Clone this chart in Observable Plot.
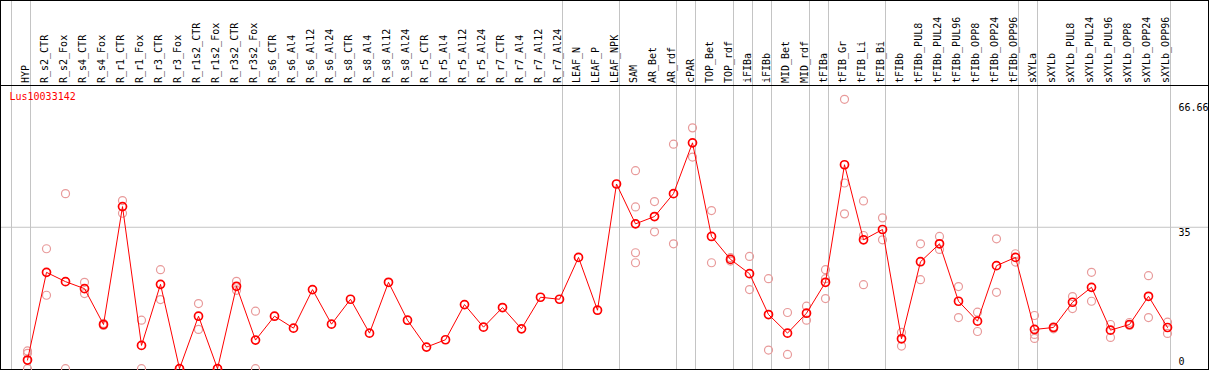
<!DOCTYPE html>
<html><head><meta charset="utf-8">
<script src="https://cdn.jsdelivr.net/npm/d3@7"></script>
<script src="https://cdn.jsdelivr.net/npm/@observablehq/plot@0.6"></script>
<style>html,body{margin:0;padding:0;background:#fff;}</style>
</head><body><div id="chart"></div>
<script>
const title = "Lus10033142";
const categories = ["HYP","R_s2_CTR","R_s2_Fox","R_s4_CTR","R_s4_Fox","R_r1_CTR","R_r1_Fox","R_r3_CTR","R_r3_Fox","R_r1s2_CTR","R_r1s2_Fox","R_r3s2_CTR","R_r3s2_Fox",
  "R_s6_CTR","R_s6_Al4","R_s6_Al12","R_s6_Al24","R_s8_CTR","R_s8_Al4","R_s8_Al12","R_s8_Al24","R_r5_CTR","R_r5_Al4","R_r5_Al12","R_r5_Al24","R_r7_CTR","R_r7_Al4","R_r7_Al12","R_r7_Al24",
  "LEAF_N","LEAF_P","LEAF_NPK","SAM","AR_Bet","AR_rdf","cPAR","TOP_Bet","TOP_rdf","iFIBa","iFIBb","MID_Bet","MID_rdf","tFIBa","tFIB_Gr","tFIB_Li","tFIB_Bi",
  "tFIBb","tFIBb_PUL8","tFIBb_PUL24","tFIBb_PUL96","tFIBb_OPP8","tFIBb_OPP24","tFIBb_OPP96","sXYLa","sXYLb","sXYLb_PUL8","sXYLb_PUL24","sXYLb_PUL96","sXYLb_OPP8","sXYLb_OPP24","sXYLb_OPP96"];
const groupStarts = ["HYP","R_s2_CTR","LEAF_N","SAM","cPAR","TOP_Bet","iFIBa","iFIBb","MID_Bet","tFIBa","tFIB_Gr","tFIBb","sXYLa","sXYLb"];
const groupEnd = ["sXYLb_OPP96"];
const yTicks = [0, 35, 66.66];

const means = [2.14,23.84,21.54,19.81,10.94,40.11,5.76,20.88,0,12.99,0,20.39,7.08,
  12.99,10.03,19.57,11.02,17.18,8.8,21.38,12.0,5.35,7.16,15.87,10.28,15.13,9.87,17.68,17.18,
  27.54,14.47,45.7,35.84,37.65,43.32,55.89,32.72,27.05,23.51,13.4,8.8,13.73,21.38,50.47,31.9,34.44,
  7.4,26.47,30.91,16.69,11.76,25.49,27.54,9.71,10.2,16.44,20.14,9.54,10.94,17.92,10.2];

const rep1 = [4.4,29.68,43.32,21.38,11.2,41.59,12.0,24.5,0,16.12,0,21.62,14.23,
  null,null,null,null,null,null,null,null,null,null,null,null,null,null,null,null,
  null,null,null,48.99,41.35,55.56,59.59,39.13,27.46,27.79,22.28,13.9,15.46,24.5,66.66,41.51,37.32,
  8.97,30.91,32.72,20.31,13.98,32.14,28.44,13.16,10.36,17.84,23.84,10.94,11.43,23.02,11.51];
const rep2 = [3.8,18.17,0,18.58,10.7,38.47,0,17.1,0,9.71,0,19.4,0,
  null,null,null,null,null,null,null,null,null,null,null,null,null,null,null,null,
  null,null,null,40.03,33.87,30.91,52.36,26.22,26.63,19.57,4.61,3.54,12.0,22.28,45.95,32.96,31.9,
  5.6,22.03,29.51,12.66,9.21,18.91,26.39,8.47,9.87,14.88,16.69,7.73,10.69,12.66,8.72];
const rep3 = [0,null,null,null,null,null,null,null,null,null,null,null,null,
  null,null,null,null,null,null,null,null,null,null,null,null,null,null,null,null,
  null,null,null,28.69,null,null,null,null,null,null,null,null,null,17.35,38.31,20.8,null,
  null,null,null,null,null,null,null,7.49,null,null,null,null,null,null,null];
const rep4 = [null,null,null,null,null,null,null,null,null,null,null,null,null,
  null,null,null,null,null,null,null,null,null,null,null,null,null,null,null,null,
  null,null,null,26.22,null,null,null,null,null,null,null,null,null,null,null,null,null,
  null,null,null,null,null,null,null,null,null,null,null,null,null,null,null];

const rows = categories.map((c, i) => ({category: c, mean: means[i]}));
const reps = [];
[rep1, rep2, rep3, rep4].forEach(arr => arr.forEach((v, i) => {
  if (v != null) reps.push({category: categories[i], value: v});
}));

const font = "DejaVu Sans Mono";
const grid = "#c4c4c4";
const chart = Plot.plot({
  width: 1209,
  height: 370,
  marginTop: 85,
  marginBottom: 1,
  marginLeft: 0,
  marginRight: 1,
  style: {fontFamily: font, fontSize: "10px", background: "white"},
  x: {type: "point", domain: categories, range: [27, 1167], padding: 0, axis: null},
  y: {domain: [0, 66.66], range: [368.2, 98.8], axis: null},
  marks: [
    Plot.ruleX(groupStarts, {x: d => d, dx: -16, insetTop: -85, stroke: grid, strokeWidth: 1}),
    Plot.ruleX(groupEnd, {x: d => d, dx: 3, insetTop: -85, stroke: grid, strokeWidth: 1}),
    Plot.ruleY([35], {stroke: grid, strokeWidth: 1}),
    Plot.frame({stroke: "black", strokeWidth: 1}),
    Plot.frame({stroke: "black", strokeWidth: 1, insetTop: -85}),
    Plot.dot(reps, {x: "category", y: "value", r: 4, stroke: "#e89a9a", strokeWidth: 1.2, fill: "none"}),
    Plot.line(rows, {x: "category", y: "mean", stroke: "red", strokeWidth: 1}),
    Plot.dot(rows, {x: "category", y: "mean", r: 4, stroke: "red", strokeWidth: 1.7, fill: "none"}),
    Plot.text(categories, {x: d => d, frameAnchor: "top", rotate: -90, textAnchor: "start", lineAnchor: "bottom",
      dx: 1.5, dy: -2.5, fill: "black", fontFamily: font, fontSize: 10}),
    Plot.text([title], {frameAnchor: "top-left", textAnchor: "start", lineAnchor: "bottom", dx: 9, dy: 14.5,
      fill: "red", fontFamily: font, fontSize: 10}),
    Plot.text([yTicks[2]], {y: d => d, text: d => String(d), frameAnchor: "right", textAnchor: "start", lineAnchor: "bottom",
      dx: -30, dy: 11.5, fill: "black", fontFamily: font, fontSize: 10}),
    Plot.text([yTicks[1]], {y: d => d, text: d => String(d), frameAnchor: "right", textAnchor: "start", lineAnchor: "bottom",
      dx: -30, dy: 8.5, fill: "black", fontFamily: font, fontSize: 10}),
    Plot.text([yTicks[0]], {y: d => d, text: d => String(d), frameAnchor: "right", textAnchor: "start", lineAnchor: "bottom",
      dx: -30, dy: -3.5, fill: "black", fontFamily: font, fontSize: 10})
  ]
});
document.getElementById("chart").appendChild(chart);
</script>
</body></html>
